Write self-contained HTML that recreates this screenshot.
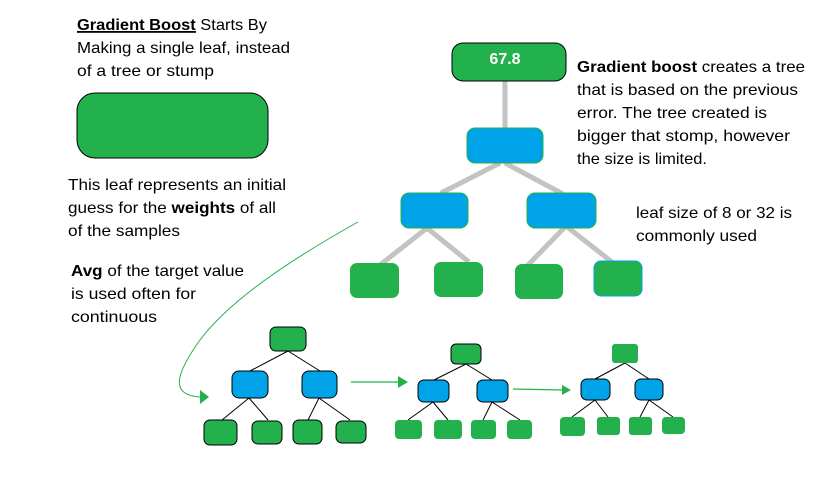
<!DOCTYPE html>
<html><head><meta charset="utf-8"><style>
html,body{margin:0;padding:0;background:#fff;}
svg{display:block;font-family:"Liberation Sans",sans-serif;}
</style></head><body>
<svg width="823" height="480" viewBox="0 0 823 480" xmlns="http://www.w3.org/2000/svg">
<g font-size="16" fill="#000">
<text x="77" y="30" textLength="190" lengthAdjust="spacingAndGlyphs"><tspan font-weight="bold" text-decoration="underline">Gradient Boost</tspan> Starts By</text>
<line x1="77" y1="32" x2="196" y2="32" stroke="#000" stroke-width="1.5"/>
<text x="77" y="53" textLength="213" lengthAdjust="spacingAndGlyphs">Making a single leaf, instead</text>
<text x="77" y="76" textLength="137" lengthAdjust="spacingAndGlyphs">of a tree or stump</text>
<text x="68" y="190" textLength="218" lengthAdjust="spacingAndGlyphs">This leaf represents an initial</text>
<text x="68" y="213" textLength="208" lengthAdjust="spacingAndGlyphs">guess for the <tspan font-weight="bold">weights</tspan> of all</text>
<text x="68" y="236" textLength="112" lengthAdjust="spacingAndGlyphs">of the samples</text>
<text x="71" y="276" textLength="173" lengthAdjust="spacingAndGlyphs"><tspan font-weight="bold">Avg</tspan> of the target value</text>
<text x="71" y="299" textLength="125" lengthAdjust="spacingAndGlyphs">is used often for</text>
<text x="71" y="322" textLength="86" lengthAdjust="spacingAndGlyphs">continuous</text>
<text x="577" y="72" textLength="228" lengthAdjust="spacingAndGlyphs"><tspan font-weight="bold">Gradient boost</tspan> creates a tree</text>
<text x="577" y="95" textLength="221" lengthAdjust="spacingAndGlyphs">that is based on the previous</text>
<text x="577" y="118" textLength="190" lengthAdjust="spacingAndGlyphs">error. The tree created is</text>
<text x="577" y="141" textLength="213" lengthAdjust="spacingAndGlyphs">bigger that stomp, however</text>
<text x="577" y="164" textLength="130" lengthAdjust="spacingAndGlyphs">the size is limited.</text>
<text x="636" y="218" textLength="156" lengthAdjust="spacingAndGlyphs">leaf size of 8 or 32 is</text>
<text x="636" y="241" textLength="121" lengthAdjust="spacingAndGlyphs">commonly used</text>
</g>
<!-- big leaf -->
<rect x="77" y="93" width="191" height="65" rx="18" fill="#22b14c" stroke="#000" stroke-width="1"/>
<!-- main tree connectors -->
<g stroke="#c3c3c3" stroke-width="5" fill="none">
<line x1="505" y1="81" x2="505" y2="128"/>
<line x1="500" y1="163" x2="441" y2="193"/>
<line x1="505" y1="163" x2="563" y2="194"/>
<line x1="427" y1="228" x2="380" y2="265"/>
<line x1="427" y1="228" x2="469" y2="262"/>
<line x1="566" y1="226" x2="527" y2="266"/>
<line x1="566" y1="226" x2="612" y2="262"/>
</g>
<rect x="452" y="43" width="114" height="38" rx="11" fill="#22b14c" stroke="#000" stroke-width="1"/>
<text x="505" y="64" font-size="16" font-weight="bold" fill="#fff" text-anchor="middle">67.8</text>
<g fill="#00a2e8" stroke="#22b14c" stroke-width="1">
<rect x="467" y="128" width="76" height="35" rx="8"/>
<rect x="401" y="193" width="67" height="35" rx="8"/>
<rect x="527" y="193" width="69" height="35" rx="8"/>
</g>
<g fill="#22b14c">
<rect x="350" y="263" width="49" height="35" rx="7"/>
<rect x="434" y="262" width="49" height="35" rx="7"/>
<rect x="515" y="264" width="48" height="35" rx="7"/>
<rect x="594" y="261" width="48" height="35" rx="7" stroke="#00a2e8" stroke-width="1"/>
</g>
<!-- curve arrow -->
<path d="M358,222 C290,260 230,300 200,340 C175,375 170,395 200,397" fill="none" stroke="#22b14c" stroke-width="1"/>
<polygon points="200,390 209,397 200,404" fill="#22b14c"/>
<!-- small trees connectors -->
<g stroke="#000" stroke-width="1" fill="none">
<line x1="288" y1="351" x2="250" y2="371"/><line x1="288" y1="351" x2="320" y2="371"/>
<line x1="249" y1="398" x2="222" y2="420"/><line x1="249" y1="398" x2="268" y2="420"/>
<line x1="319" y1="398" x2="308" y2="420"/><line x1="319" y1="398" x2="350" y2="420"/>
<line x1="466" y1="364" x2="434" y2="380"/><line x1="466" y1="364" x2="492" y2="380"/>
<line x1="433" y1="402" x2="408" y2="420"/><line x1="433" y1="402" x2="448" y2="420"/>
<line x1="492" y1="402" x2="483" y2="420"/><line x1="492" y1="402" x2="520" y2="420"/>
<line x1="625" y1="363" x2="595" y2="379"/><line x1="625" y1="363" x2="649" y2="379"/>
<line x1="595" y1="400" x2="572" y2="417"/><line x1="595" y1="400" x2="608" y2="417"/>
<line x1="649" y1="400" x2="640" y2="417"/><line x1="649" y1="400" x2="673" y2="417"/>
</g>
<g fill="#22b14c" stroke="#000" stroke-width="1">
<rect x="270" y="327" width="36" height="24" rx="6"/>
<rect x="204" y="420" width="33" height="25" rx="6"/>
<rect x="252" y="421" width="30" height="23" rx="6"/>
<rect x="293" y="420" width="29" height="24" rx="6"/>
<rect x="336" y="421" width="30" height="22" rx="6"/>
</g>
<g fill="#22b14c">
<rect x="451" y="344" width="30" height="20" rx="5" stroke="#000" stroke-width="1"/>
<rect x="395" y="420" width="27" height="19" rx="4"/>
<rect x="434" y="420" width="28" height="19" rx="4"/>
<rect x="471" y="420" width="25" height="19" rx="4"/>
<rect x="507" y="420" width="25" height="19" rx="4"/>
<rect x="612" y="344" width="26" height="19" rx="3"/>
<rect x="560" y="417" width="25" height="19" rx="4"/>
<rect x="597" y="417" width="23" height="18" rx="3"/>
<rect x="629" y="417" width="23" height="18" rx="3"/>
<rect x="662" y="417" width="23" height="17" rx="4"/>
</g>
<g fill="#00a2e8" stroke="#000" stroke-width="1">
<rect x="232" y="371" width="36" height="27" rx="7"/>
<rect x="302" y="371" width="35" height="27" rx="7"/>
<rect x="418" y="380" width="31" height="22" rx="6"/>
<rect x="477" y="380" width="31" height="22" rx="6"/>
<rect x="581" y="379" width="29" height="21" rx="6"/>
<rect x="635" y="379" width="28" height="21" rx="6"/>
</g>
<line x1="351" y1="382" x2="400" y2="382" stroke="#22b14c" stroke-width="1.2"/>
<polygon points="398,376 408,382 398,388" fill="#22b14c"/>
<line x1="513" y1="389" x2="564" y2="390" stroke="#22b14c" stroke-width="1.2"/>
<polygon points="562,385 571,390 562,395" fill="#22b14c"/>
</svg>
</body></html>
